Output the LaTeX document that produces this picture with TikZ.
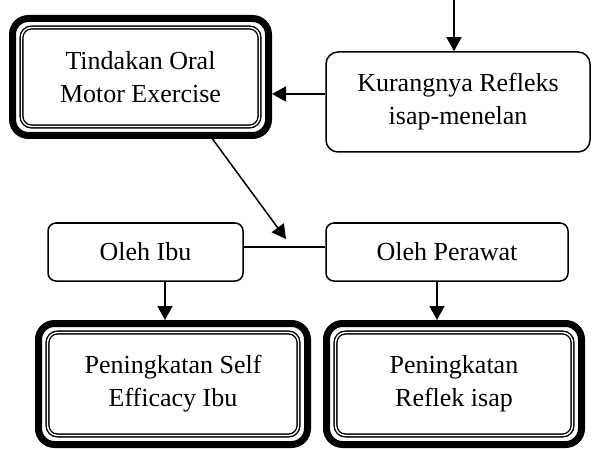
\documentclass[tikz,border=0pt]{standalone}
\usepackage{fontspec}
\setmainfont{Liberation Serif}
\usetikzlibrary{arrows.meta}

\tikzset{
  box/.style={draw,rectangle,rounded corners=4pt,line width=0.75pt,align=center,
    font=\fontsize{13}{16.5}\selectfont},
  heavybox/.style={box,rounded corners=8pt,line width=3.5pt},
  innerline/.style={draw,double,line width=0.7pt,double distance=0.7pt,rounded corners=5pt}
}

\begin{document}
\begin{tikzpicture}[x=0.5pt,y=-0.5pt,>={Triangle[length=7pt,width=7.5pt]},line width=0.75pt]
  \useasboundingbox (0,0) rectangle (592,448);

  \node[heavybox,minimum width=128pt,minimum height=58.5pt] at (140.5,77) (n0-0) {Tindakan Oral\\Motor Exercise};
  \node[box,rounded corners=6pt,minimum width=132pt,minimum height=50pt] at (458,102) (n0-1) {Kurangnya Refleks\\isap-menelan};

  \node[box,minimum width=97.5pt,minimum height=29pt] at (145.5,252) (n1-0) {Oleh Ibu};
  \node[box,minimum width=121pt,minimum height=29pt] at (447,252) (n1-1) {Oleh Perawat};

  \node[heavybox,minimum width=134.5pt,minimum height=60.5pt] at (173,384) (n2-0) {Peningkatan Self\\Efficacy Ibu};
  \node[heavybox,minimum width=127.5pt,minimum height=60.5pt] at (454,384) (n2-1) {Peningkatan\\Reflek isap};

  \foreach \n in {n0-0,n2-0,n2-1}
    \draw[innerline] ([shift={(12.5,12.5)}]\n.north west) rectangle ([shift={(-12.5,-12.5)}]\n.south east);

  \coordinate (in) at (454,0);
  \draw[->] (in) -- (in |- n0-1.north);
  \draw[->] (n0-1.west) ++(0,-8) coordinate (k) -- (k -| n0-0.east);

  \coordinate (tip) at (286,239);
  \draw[->] ([xshift=36pt]n0-0.south) -- (tip);
  \draw (n1-0.east) ++(0,-5) coordinate (h) -- (h -| n1-1.west);

  \draw[->] (n1-0.south) ++(19.5,0) coordinate (d0) -- (d0 |- n2-0.north);
  \draw[->] (n1-1.south) ++(-10,0) coordinate (d1) -- (d1 |- n2-1.north);

\end{tikzpicture}
\end{document}
